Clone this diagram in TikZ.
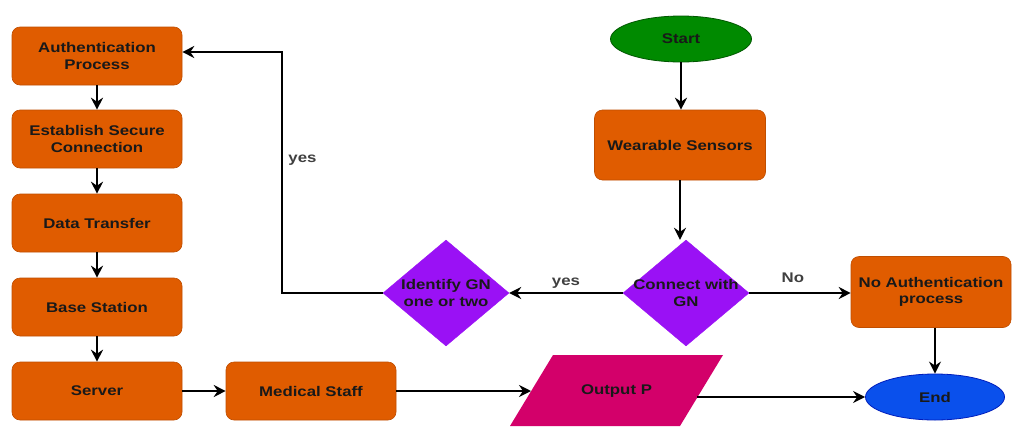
\documentclass[tikz,border=0pt]{standalone}
\usepackage{fontspec}
\setmainfont{Liberation Sans}[FakeStretch=1.2]
\usetikzlibrary{arrows.meta,shapes.geometric}
\definecolor{orng}{HTML}{E05C00}
\definecolor{orngd}{HTML}{C04E00}
\definecolor{purp}{HTML}{9A11F5}
\definecolor{mag}{HTML}{D3006A}
\definecolor{grn}{HTML}{008A00}
\definecolor{grnd}{HTML}{005700}
\definecolor{blu}{HTML}{0A50EC}
\definecolor{blud}{HTML}{001DBC}
\tikzset{
  every node/.style={font=\fontsize{14}{16.5}\selectfont\bfseries, text=black!90},
  procbox/.style={rectangle, rounded corners=8pt, fill=orng, draw=orngd, line width=0.6pt,
    minimum width=170pt, minimum height=58pt, align=center, inner sep=0pt},
  decis/.style={diamond, fill=purp, draw=purp, inner sep=0pt, minimum width=126pt,
    minimum height=106pt},
  term/.style={ellipse, minimum width=141pt, minimum height=46pt, inner sep=0pt},
  arr/.style={line width=2.2pt, -{Stealth[length=12pt,width=12pt,inset=4pt]}},
  lbl/.style={text=black!75, font=\fontsize{14}{16}\selectfont\bfseries}
}
\begin{document}
\begin{tikzpicture}[x=1pt,y=-1pt]
\useasboundingbox[fill=white] (0,0) rectangle (1012,426);
% left column
\node[procbox] (auth) at (97,56) {Authentication\\Process};
\node[procbox] (est) at (97,139) {Establish Secure\\Connection};
\node[procbox] (data) at (97,223) {Data Transfer};
\node[procbox] (base) at (97,307) {Base Station};
\node[procbox] (serv) at (97,391) {Server};
\node[procbox] (med) at (311,391) {Medical Staff};
% right part
\node[term, fill=grn, draw=grnd, line width=0.8pt] (start) at (681,39) {Start};
\node[procbox, minimum width=171pt, minimum height=70pt] (wear) at (680,145) {Wearable Sensors};
\node[decis, label={[align=center]center:Connect with\\GN}] (conn) at (686,293) {};
\node[decis, label={[align=center]center:Identify GN\\one or two}] (ident) at (446,293) {};
\node[procbox, minimum width=160pt, minimum height=71pt] (noauth) at (931,292) {No Authentication\\process};
% output parallelogram
\fill[mag] (553,355) -- (723,355) -- (680,426) -- (510,426) -- cycle;
\node (out) at (616.5,391) {Output P};
\coordinate (outL) at (531,391);
\coordinate (outR) at (697,397);
\node[term, fill=blu, draw=blud, line width=0.8pt, minimum width=139pt] (end) at (935,397) {End};
% connectors
\draw[arr] (auth) -- (est);
\draw[arr] (est) -- (data);
\draw[arr] (data) -- (base);
\draw[arr] (base) -- (serv);
\draw[arr] (serv) -- (med);
\draw[arr] (med) -- (outL);
\draw[arr] (outR) -- (end);
\draw[arr] (start) -- (wear.north -| start.south);
\draw[arr] (wear) -- (conn.north -| wear.south);
\draw[arr] (conn) -- node[lbl, above, pos=0.5, yshift=0pt] {yes} (ident);
\draw[arr] (conn) -- node[lbl, above, pos=0.43, yshift=6pt] {No} (noauth.west |- conn.east);
\draw[arr] (noauth.south -| end.north) -- (end);
\coordinate (c1) at (282,293);
\coordinate (c2) at (282,52);
\draw[arr] (ident.west) -- (c1) -- node[lbl, pos=0.55, right, xshift=2pt] {yes} (c2) -- (auth.east |- c2);
\end{tikzpicture}
\end{document}
